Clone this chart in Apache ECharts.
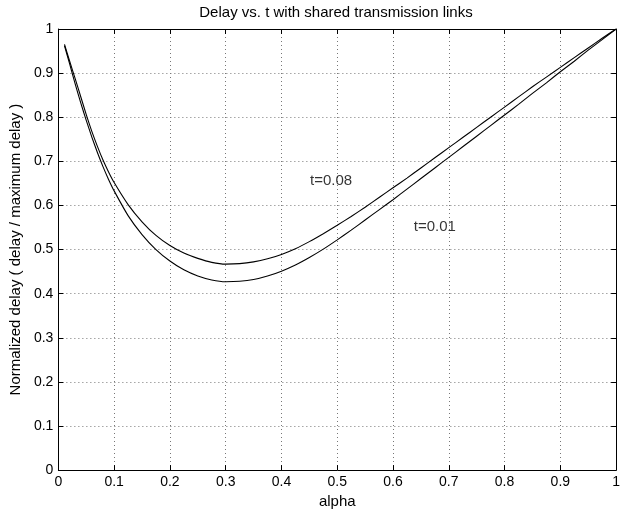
<!DOCTYPE html>
<html>
<head>
<meta charset="utf-8">
<script src="https://cdn.jsdelivr.net/npm/echarts@6/dist/echarts.min.js"></script>
<style>
  html, body { margin: 0; padding: 0; background: #fff; }
  #chart { width: 623px; height: 514px; }
</style>
</head>
<body>
<div id="chart"></div>
<script>
const titleText = "Delay vs. t with shared transmission links";
const xName = "alpha";
const yName = "Normalized delay ( delay / maximum delay )";

// [alpha, normalized delay]
const delayT008 = [
  [0.011, 0.965], [0.02, 0.928], [0.03, 0.888], [0.04, 0.847], [0.05, 0.806],
  [0.06, 0.768], [0.07, 0.734], [0.08, 0.703], [0.09, 0.676], [0.1, 0.652],
  [0.125, 0.602], [0.15, 0.563], [0.175, 0.532], [0.2, 0.509], [0.225, 0.492],
  [0.25, 0.48], [0.275, 0.471], [0.3, 0.467], [0.325, 0.468], [0.35, 0.472],
  [0.375, 0.479], [0.4, 0.489], [0.425, 0.502], [0.45, 0.518], [0.475, 0.536],
  [0.5, 0.555], [0.525, 0.575], [0.55, 0.596], [0.575, 0.618], [0.6, 0.64],
  [0.625, 0.662], [0.65, 0.685], [0.675, 0.708], [0.7, 0.731], [0.725, 0.754],
  [0.75, 0.777], [0.775, 0.8], [0.8, 0.823], [0.825, 0.846], [0.85, 0.869],
  [0.875, 0.891], [0.9, 0.913], [0.925, 0.935], [0.95, 0.957], [0.975, 0.979],
  [1, 1]
];
const delayT001 = [
  [0.011, 0.962], [0.02, 0.922], [0.03, 0.876], [0.04, 0.833], [0.05, 0.793],
  [0.06, 0.755], [0.07, 0.72], [0.08, 0.688], [0.09, 0.659], [0.1, 0.633],
  [0.125, 0.577], [0.15, 0.534], [0.175, 0.5], [0.2, 0.474], [0.225, 0.454],
  [0.25, 0.44], [0.275, 0.431], [0.3, 0.427], [0.325, 0.428], [0.35, 0.432],
  [0.375, 0.44], [0.4, 0.451], [0.425, 0.465], [0.45, 0.482], [0.475, 0.501],
  [0.5, 0.522], [0.525, 0.544], [0.55, 0.567], [0.575, 0.59], [0.6, 0.613],
  [0.625, 0.637], [0.65, 0.661], [0.675, 0.685], [0.7, 0.709], [0.725, 0.733],
  [0.75, 0.757], [0.775, 0.781], [0.8, 0.805], [0.825, 0.829], [0.85, 0.854],
  [0.875, 0.878], [0.9, 0.903], [0.925, 0.927], [0.95, 0.952], [0.975, 0.976],
  [1, 1]
];

const curveLabels = ["t=0.08", "t=0.01"];
const curveLabelPos = [[0.489, 0.656], [0.675, 0.551]];

const font = "Liberation Sans, Arial, Helvetica, sans-serif";
const black = "#000";
const gridDots = { color: "#777", type: [1, 3], width: 1 };

const chart = echarts.init(document.getElementById("chart"));

function axisBase(extra) {
  return Object.assign({
    type: "value",
    min: 0,
    max: 1,
    interval: 0.1,
    axisLine: { show: true, onZero: false, lineStyle: { color: black, width: 1 } },
    axisTick: { show: true, inside: true, length: 5, lineStyle: { color: black } },
    splitLine: { show: false }
  }, extra);
}

const tickFmt = (v) => (v === 0 ? "0" : v === 1 ? "1" : v.toFixed(1));

chart.setOption({
  animation: false,
  backgroundColor: "#fff",
  title: {
    text: titleText,
    left: 331,
    top: 0,
    textAlign: "center",
    textStyle: { fontSize: 15, fontWeight: "normal", color: black, fontFamily: font }
  },
  grid: { left: 51, right: 2, top: 29, bottom: 37, containLabel: false },
  xAxis: [
    axisBase({
      position: "bottom",
      name: xName,
      nameLocation: "middle",
      nameGap: 17,
      nameTextStyle: { fontSize: 15, color: black, fontFamily: font },
      axisLabel: { margin: 5, fontSize: 14, color: black, fontFamily: font, formatter: tickFmt },
      splitLine: { show: true, lineStyle: gridDots }
    }),
    axisBase({ position: "top", axisLabel: { show: false } })
  ],
  yAxis: [
    axisBase({
      position: "left",
      name: yName,
      nameLocation: "middle",
      nameGap: 30,
      nameTextStyle: { fontSize: 15, color: black, fontFamily: font },
      axisLabel: { margin: 5, fontSize: 14, color: black, fontFamily: font, formatter: tickFmt },
      splitLine: { show: true, lineStyle: gridDots }
    }),
    axisBase({ position: "right", axisLabel: { show: false } })
  ],
  series: [
    {
      name: "t=0.08",
      type: "line",
      data: delayT008,
      smooth: 0.2,
      showSymbol: false,
      lineStyle: { color: black, width: 1.1 }
    },
    {
      name: "t=0.01",
      type: "line",
      data: delayT001,
      smooth: 0.2,
      showSymbol: false,
      lineStyle: { color: black, width: 1.1 }
    },
    {
      name: "labels",
      type: "scatter",
      symbolSize: 0,
      data: curveLabelPos.map((p, i) => ({ value: p, name: curveLabels[i] })),
      label: {
        show: true,
        position: "inside",
        formatter: (p) => p.name,
        fontSize: 15,
        color: black,
        fontFamily: font
      }
    }
  ]
});
</script>
</body>
</html>
